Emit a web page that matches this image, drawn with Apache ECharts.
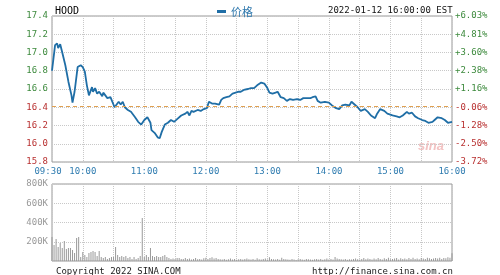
<!DOCTYPE html>
<html><head><meta charset="utf-8">
<script src="https://cdn.jsdelivr.net/npm/echarts@6/dist/echarts.min.js"></script>
<style>html,body{margin:0;padding:0;background:#fff}#c{width:500px;height:275px}</style>
</head><body><div id="c"></div>
<script>
// minutes since 09:30
var priceMinutes = [0,3,5,6,8,10,13,16,19,20,22,25,28,30,32,34,36,39,40,42,44,46,49,50,54,57,61,65,67,69,71,74,77,81,84,87,90,93,96,97,100,103,105,107,110,113,116,119,122,126,130,132,134,136,138,142,145,148,151,153,156,159,163,165,167,170,173,176,179,182,184,187,191,194,197,200,204,207,210,212,215,218,220,223,226,229,232,235,239,242,245,249,252,254,257,259,262,266,270,273,277,280,283,286,290,292,295,298,301,305,308,311,315,317,320,324,327,332,336,339,342,346,348,351,354,357,361,364,367,371,373,376,380,383,386,390];
var priceValues = [16.80,17.08,17.10,17.05,17.09,17.00,16.86,16.68,16.53,16.45,16.57,16.84,16.86,16.84,16.79,16.64,16.53,16.62,16.57,16.61,16.55,16.57,16.52,16.56,16.50,16.51,16.40,16.46,16.43,16.46,16.40,16.37,16.35,16.29,16.24,16.21,16.26,16.29,16.23,16.15,16.12,16.07,16.06,16.13,16.21,16.23,16.26,16.24,16.27,16.31,16.33,16.35,16.31,16.36,16.35,16.37,16.36,16.38,16.39,16.46,16.44,16.44,16.43,16.48,16.50,16.51,16.52,16.55,16.56,16.57,16.57,16.59,16.60,16.61,16.61,16.64,16.67,16.66,16.61,16.56,16.55,16.56,16.57,16.51,16.50,16.47,16.49,16.48,16.49,16.48,16.50,16.50,16.50,16.51,16.52,16.47,16.45,16.46,16.45,16.42,16.39,16.38,16.42,16.43,16.42,16.46,16.43,16.40,16.36,16.38,16.35,16.31,16.28,16.33,16.38,16.36,16.33,16.31,16.30,16.29,16.31,16.35,16.33,16.34,16.30,16.28,16.26,16.25,16.23,16.24,16.26,16.29,16.28,16.26,16.23,16.24];
// volume per 2-minute bucket, in thousands of shares
var volumeK = [250,166,228,145,187,135,208,125,135,135,114,83,240,250,42,93,62,42,83,93,104,93,52,104,42,31,42,21,31,42,42,145,62,42,52,42,52,31,42,21,42,21,31,52,447,42,62,42,135,52,42,52,42,42,52,62,42,31,20,25,20,30,30,20,20,30,20,
25,15,20,30,18,22,15,28,35,20,30,38,25,32,20,18,15,22,12,18,25,15,20,12,18,22,15,20,25,18,
15,22,12,28,18,15,20,25,15,40,22,18,15,20,12,35,22,18,15,12,20,15,10,18,22,15,12,20,18,15,
12,18,22,15,20,12,18,25,15,20,15,42,25,20,18,15,22,12,18,15,20,25,18,15,22,30,18,25,20,15,
25,18,30,22,15,28,20,35,18,22,25,30,15,28,20,25,18,30,22,35,20,25,18,30,25,22,35,28,20,25,
30,25,35,22,30,28,40,35,80];
var prevClose = 16.41;
var priceTicks = [15.8,17.4,0.2];
var volTicks = [0,800000,200000];
var timeLabels = {0:'09:30',30:'10:00',90:'11:00',150:'12:00',210:'13:00',270:'14:00',330:'15:00',390:'16:00'};
var symbol = 'HOOD', legendName = '价格', stamp = '2022-01-12 16:00:00 EST';
var footLeft = 'Copyright 2022 SINA.COM', footRight = 'http://finance.sina.com.cn';

var mono = 'DejaVu Sans Mono';
var priceData = priceMinutes.map(function(m,i){return [m, priceValues[i]];});
var volData = volumeK.map(function(v,i){return [i*2, v*1000];});
var split = {show:true, lineStyle:{type:'dotted', color:'#c8c8c8', width:1}};
var chart = echarts.init(document.getElementById('c'), null, {renderer:'canvas'});
chart.setOption({
  animation:false,
  backgroundColor:'#fff',
  textStyle:{fontFamily:mono},
  legend:{data:[{name:legendName, icon:'rect'}], left:212, top:1, itemWidth:9, itemHeight:3, itemGap:4,
    textStyle:{color:'#2f78ad', fontSize:11, fontFamily:'Noto Sans CJK SC'}},
  title:[
    {text:symbol, left:50, top:1, textStyle:{fontSize:10, fontWeight:'normal', color:'#000', fontFamily:mono}},
    {text:stamp, left:323, top:1, textStyle:{fontSize:9, fontWeight:'normal', color:'#111', fontFamily:mono}},
    {text:footLeft, left:51, top:262, textStyle:{fontSize:9, fontWeight:'normal', color:'#222', fontFamily:mono}},
    {text:footRight, left:307, top:262, textStyle:{fontSize:9, fontWeight:'normal', color:'#222', fontFamily:mono}}
  ],
  graphic:[{type:'text', left:418, top:140, style:{text:'sina', fill:'#f3c2c2', font:'italic bold 13px Arial'}}],
  grid:[
    {left:52, top:16, width:400, height:146, show:true, borderColor:'#999', borderWidth:1},
    {left:52, top:184, width:400, height:77, show:true, borderColor:'#999', borderWidth:1}
  ],
  xAxis:[
    {type:'value', gridIndex:0, min:0, max:390, interval:30, axisLine:{show:false}, axisTick:{show:false},
     splitLine:split,
     axisLabel:{show:true, margin:5, fontSize:9, color:'#2f7cb0', fontFamily:mono, showMinLabel:true, showMaxLabel:true,
       formatter:function(v){ if(v===0) return '{a|09:30}'; return timeLabels[v]||''; },
       rich:{a:{fontSize:9, color:'#2f7cb0', fontFamily:mono, padding:[0,8,0,0]}}}},
    {type:'value', gridIndex:1, min:0, max:390, interval:30, axisLine:{show:false}, axisTick:{show:false},
     axisLabel:{show:false}, splitLine:split}
  ],
  yAxis:[
    {type:'value', gridIndex:0, min:priceTicks[0], max:priceTicks[1], interval:priceTicks[2], axisLine:{show:false}, axisTick:{show:false},
     splitLine:split,
     axisLabel:{margin:4, fontSize:9, fontFamily:mono,
       color:function(v){return (+v) >= prevClose ? '#3d8a3d' : '#b83030';},
       formatter:function(v){return v.toFixed(1);}}},
    {type:'value', gridIndex:0, position:'right', min:priceTicks[0], max:priceTicks[1], interval:priceTicks[2], axisLine:{show:false}, axisTick:{show:false},
     splitLine:{show:false},
     axisLabel:{margin:3, fontSize:9, fontFamily:mono,
       color:function(v){return (+v) >= prevClose ? '#3d8a3d' : '#b83030';},
       formatter:function(v){var p=(v/prevClose-1)*100; return (p>=0?'+':'')+p.toFixed(2)+'%';}}},
    {type:'value', gridIndex:1, min:volTicks[0], max:volTicks[1], interval:volTicks[2], axisLine:{show:false}, axisTick:{show:false},
     splitLine:split,
     axisLabel:{margin:4, fontSize:9, fontFamily:mono, color:'#999', showMinLabel:false,
       formatter:function(v){return v===0?'':(v/1000)+'K';}}}
  ],
  series:[
    {name:legendName, type:'line', xAxisIndex:0, yAxisIndex:0, data:priceData, showSymbol:false, symbol:'none',
     lineStyle:{color:'#1f6ea6', width:1.8}, itemStyle:{color:'#1f6ea6'},
     markLine:{silent:true, symbol:'none', label:{show:false},
       lineStyle:{type:[4,3], color:'#e0a050', width:1}, data:[{yAxis:prevClose}]}},
    {name:'vol', type:'bar', xAxisIndex:1, yAxisIndex:2, data:volData, barWidth:1, itemStyle:{color:'#999'}}
  ]
});
</script></body></html>
